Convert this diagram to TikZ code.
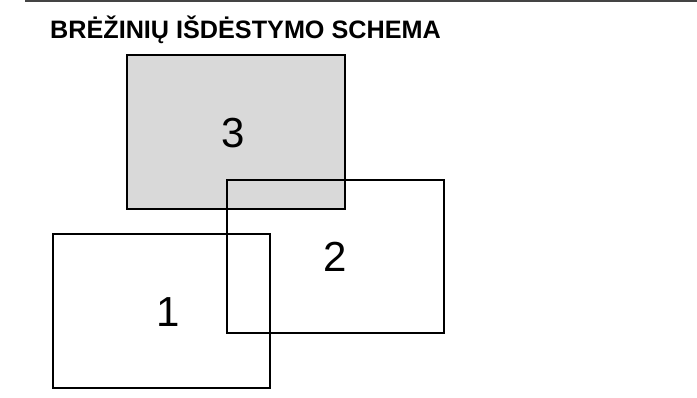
\documentclass[tikz,border=0pt]{standalone}
\usepackage{fontspec}
\setmainfont{Liberation Sans}
\definecolor{sheetgray}{HTML}{D9D9D9}
\definecolor{rulegray}{HTML}{444444}
\begin{document}
\begin{tikzpicture}[x=1pt,y=-1pt,
  sheet/.style={draw=black, line width=2pt, inner sep=0pt, outer sep=0pt},
  numlabel/.style={inner sep=0pt, anchor=base, font=\fontsize{42}{42}\selectfont},
  titletext/.style={inner sep=0pt, anchor=base west, font=\fontsize{25.2}{25.2}\selectfont\bfseries}]
\useasboundingbox (0,0) rectangle (697,398);
\coordinate (ruleL) at (25,0.8);
\coordinate (ruleR) at (697,0.8);
\draw[rulegray, line width=1.6pt] (ruleL) -- (ruleR);
\node[titletext] (title) at (50,38.5) {BRĖŽINIŲ IŠDĖSTYMO SCHEMA};
% sheet 3 (filled)
\node[sheet, fill=sheetgray, minimum width=218pt, minimum height=154pt] (s3) at (236,132) {};
% sheet 2
\node[sheet, minimum width=217pt, minimum height=153pt] (s2) at (335.5,256.5) {};
% sheet 1
\node[sheet, minimum width=217pt, minimum height=154pt] (s1) at (161.5,311) {};
\node[numlabel] (n3) at (233.5,148) {3};
\node[numlabel] (n2) at (335.5,272) {2};
\node[numlabel] (n1) at (168,327) {1};
\end{tikzpicture}
\end{document}
